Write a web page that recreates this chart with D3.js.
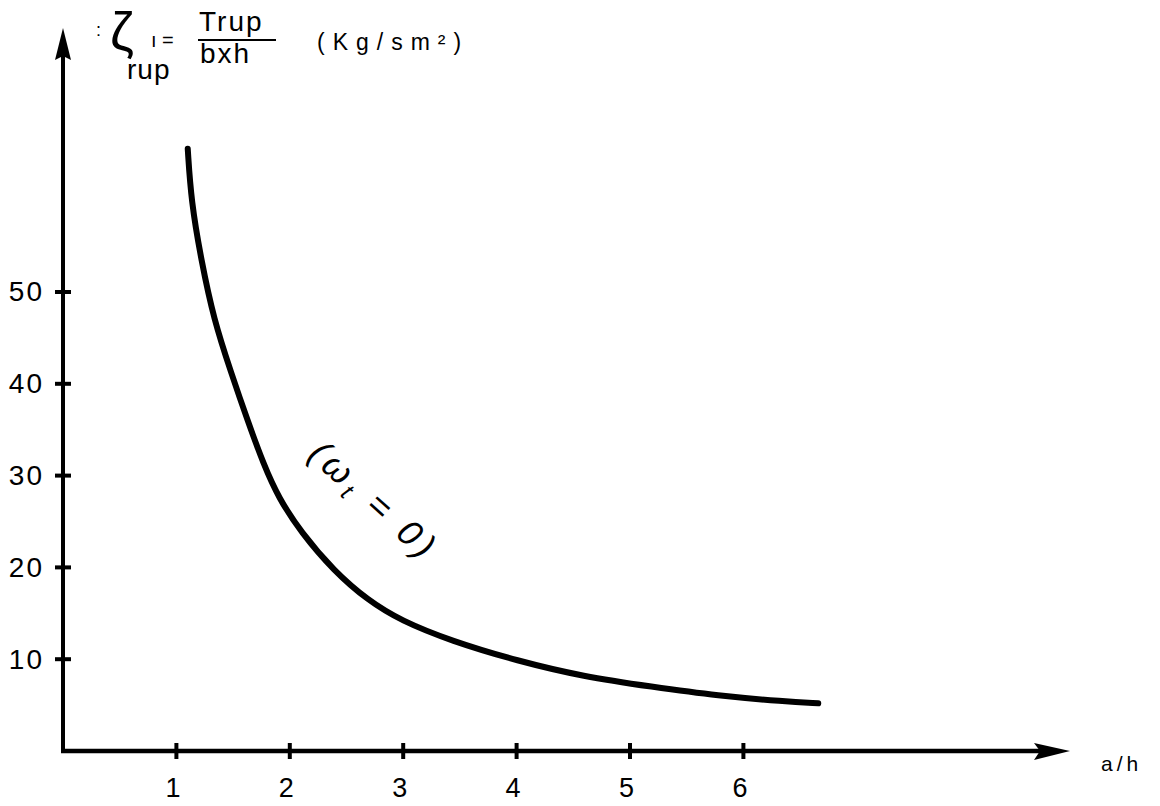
<!DOCTYPE html>
<html>
<head>
<meta charset="utf-8">
<script src="https://cdn.jsdelivr.net/npm/d3@7"></script>
<style>
  body { margin: 0; background: #fff; }
  text { font-family: "Liberation Sans", "DejaVu Sans", sans-serif; fill: #000; }
</style>
</head>
<body>
<div id="chart"></div>
<script>
// curve: a/h vs tau_rup (Kg/sm2)
const ratio = [1.10, 1.13, 1.22, 1.33, 1.48, 1.63, 1.77, 1.90, 2.10, 2.39, 2.69, 2.98, 3.42, 4.01, 4.59, 5.19, 5.78, 6.36, 6.66];
const tauRup = [65.6, 59.9, 53.4, 47.0, 41.3, 35.9, 31.2, 27.6, 23.8, 19.6, 16.4, 14.2, 12.0, 9.8, 8.1, 7.0, 6.0, 5.4, 5.2];
const xTicks = [1, 2, 3, 4, 5, 6];
const yTicks = [10, 20, 30, 40, 50];

const width = 1160, height = 806;

const xScale = d3.scaleLinear().domain([0, 9]).range([63, 1083.6]);
const yScale = d3.scaleLinear().domain([0, 80]).range([751, 16.6]);

const svg = d3.select("#chart").append("svg")
  .attr("width", width)
  .attr("height", height);

// x axis
const xAxis = svg.append("g")
  .attr("transform", "translate(0," + yScale(0) + ")")
  .call(d3.axisBottom(xScale).tickValues(xTicks).tickSize(0).tickPadding(27).tickSizeOuter(0));
xAxis.select(".domain").remove();
xAxis.selectAll("text").attr("font-size", 27).attr("dx", -4).attr("fill", "#000");

// y axis
const yAxis = svg.append("g")
  .attr("transform", "translate(" + xScale(0) + ",0)")
  .call(d3.axisLeft(yScale).tickValues(yTicks).tickSize(0).tickPadding(19).tickSizeOuter(0));
yAxis.select(".domain").remove();
yAxis.selectAll("text").attr("font-size", 28).attr("letter-spacing", 2).attr("fill", "#000");

const xMax = xScale.invert(1070);
const yMax = yScale.invert(28);

// axis lines
svg.append("line")
  .attr("x1", xScale(0) - 2).attr("y1", yScale(0))
  .attr("x2", xScale(xMax) - 20).attr("y2", yScale(0))
  .attr("stroke", "#000").attr("stroke-width", 4.5);
svg.append("line")
  .attr("x1", xScale(0)).attr("y1", yScale(0) + 2)
  .attr("x2", xScale(0)).attr("y2", yScale(yMax) + 20)
  .attr("stroke", "#000").attr("stroke-width", 4);

// arrow heads
const ax = xScale(xMax), ay = yScale(0);
svg.append("path")
  .attr("d", `M${ax},${ay} L${ax - 36},${ay - 8} L${ax - 30},${ay} L${ax - 36},${ay + 9} Z`)
  .attr("fill", "#000");
const bx = xScale(0), by = yScale(yMax);
svg.append("path")
  .attr("d", `M${bx},${by} L${bx - 8},${by + 32} L${bx},${by + 28} L${bx + 8},${by + 32} Z`)
  .attr("fill", "#000");

// tick marks across the axes
svg.selectAll(".xt").data(xTicks).enter().append("line")
  .attr("x1", d => xScale(d)).attr("x2", d => xScale(d))
  .attr("y1", yScale(0) - 8).attr("y2", yScale(0) + 8)
  .attr("stroke", "#000").attr("stroke-width", 4);
svg.selectAll(".yt").data(yTicks).enter().append("line")
  .attr("y1", d => yScale(d)).attr("y2", d => yScale(d))
  .attr("x1", xScale(0) - 8).attr("x2", xScale(0) + 8)
  .attr("stroke", "#000").attr("stroke-width", 4);

// curve
const pts = ratio.map((r, i) => ({x: r, y: tauRup[i]}));
const line = d3.line()
  .x(d => xScale(d.x))
  .y(d => yScale(d.y))
  .curve(d3.curveBasis);
svg.append("path")
  .datum(pts)
  .attr("d", line)
  .attr("fill", "none")
  .attr("stroke", "#000")
  .attr("stroke-width", 6)
  .attr("stroke-linecap", "round");

// y-axis title
const title = svg.append("g");
title.append("text").attr("x", 96).attr("y", 36).attr("font-size", 18).text(":");
title.append("text").attr("x", 110).attr("y", 50).attr("font-size", 54).attr("font-family", "DejaVu Sans").text("ζ");
title.append("text").attr("x", 151).attr("y", 47).attr("font-size", 20).text("ı =");
title.append("text").attr("x", 127).attr("y", 79).attr("font-size", 28).attr("letter-spacing", 1).text("rup");
title.append("text").attr("x", 199).attr("y", 31).attr("font-size", 28).attr("letter-spacing", 2).text("Trup");
title.append("line").attr("x1", 198).attr("x2", 276).attr("y1", 40).attr("y2", 40)
  .attr("stroke", "#000").attr("stroke-width", 2);
title.append("text").attr("x", 200).attr("y", 63).attr("font-size", 28).attr("letter-spacing", 2).text("bxh");
title.append("text").attr("x", 317).attr("y", 50).attr("font-size", 23).attr("letter-spacing", 8).text("(Kg/sm²)");

// x-axis title
svg.append("text").attr("x", 1101).attr("y", 771).attr("font-size", 21).attr("letter-spacing", 4).text("a/h");

// curve annotation, written along the line
const note = svg.append("text")
  .attr("transform", "translate(366,510) rotate(42)")
  .attr("text-anchor", "middle")
  .attr("font-size", 36)
  .attr("font-family", "DejaVu Sans")
  .attr("font-style", "italic")
  .attr("letter-spacing", 5);
note.append("tspan").text("(ω");
note.append("tspan").attr("font-size", 24).attr("dy", 7).text("t");
note.append("tspan").attr("dy", -7).text(" = 0)");
</script>
</body>
</html>
